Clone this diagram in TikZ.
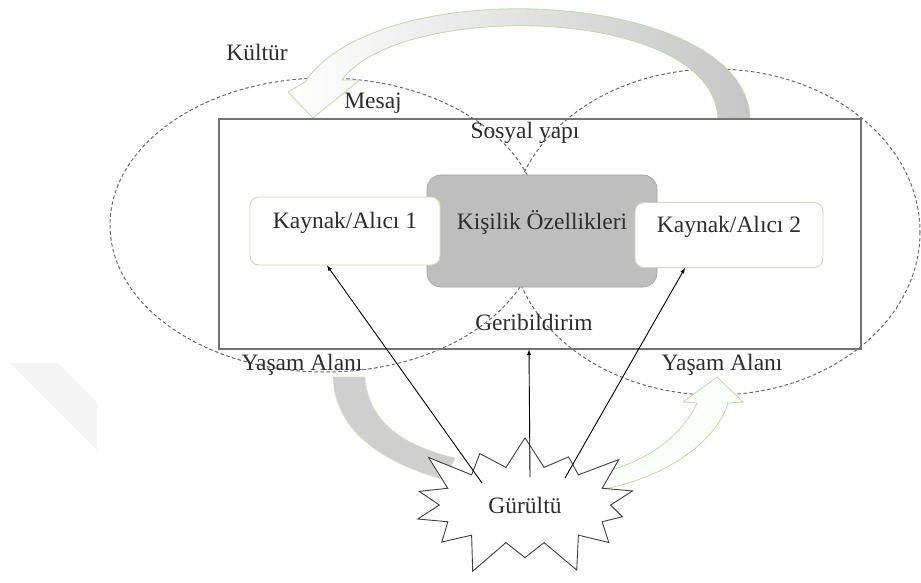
\documentclass[tikz,border=0pt]{standalone}
\usepackage{fontspec}
\setmainfont{Liberation Serif}
\usepackage{tikz}
\usetikzlibrary{calc}
\usetikzlibrary{arrows}
\usetikzlibrary{shapes.symbols}
\definecolor{yazi}{RGB}{45,45,45}
\definecolor{cerceverengi}{RGB}{115,115,115}
\definecolor{kesikli}{RGB}{105,105,105}
\definecolor{yesil}{RGB}{196,214,170}
\definecolor{kutucizgi}{RGB}{206,216,192}
\definecolor{kisilik}{RGB}{190,190,190}
\tikzstyle{every node}=[font=\fontsize{23.5}{25}\selectfont, text=yazi]
\tikzstyle{kutu}=[draw=kutucizgi, fill=white, line width=.9pt, rounded corners=9pt, text depth=22pt]
\tikzstyle{cizgili}=[draw=kesikli, line width=1pt, dash pattern=on 3.5pt off 2.5pt]

\begin{document}
\begin{tikzpicture}[>=latex, x=1pt, y=-1pt]
\useasboundingbox (0,0) rectangle (921,582);
% filigran
\fill[gray!9] (10,363) -- (58,363) -- (97,402) -- (97,450) -- cycle;

% yasam alanlari
\draw[cizgili] (325,225) ellipse [x radius=215, y radius=147];
\draw[cizgili] (715,232) ellipse [x radius=205, y radius=163];

% kultur okunun govdesi ve ucu
\draw[yesil, line width=.8pt, left color=white, right color=gray!45]
  (750,118) .. controls (745,-10) and (380,-30) .. (305,82) -- (288,92)
  -- (313,118) -- (360,80) -- (342,80)
  .. controls (400,0) and (712,5) .. (718,118) -- cycle;

% alt oklar
\draw[yesil!70, line width=.6pt, fill=gray!38]
  (333,377) .. controls (335,430) and (380,462) .. (445,480) -- (455,458)
  .. controls (400,445) and (368,420) .. (365,377) -- cycle;
\draw[yesil, line width=.8pt, fill=green!2]
  (595,474) .. controls (640,465) and (680,440) .. (697,403) -- (683,402)
  -- (717,377) -- (743,402) -- (728,403)
  .. controls (715,445) and (660,480) .. (598,490) -- cycle;

% sosyal yapi cercevesi
\node[draw=cerceverengi, line width=1.5pt, minimum width=642pt, minimum height=230pt, anchor=north west] (cerceve) at (218,118) {};

\node[fill=kisilik, draw=kisilik!85!black, line width=.6pt, rounded corners=14pt, minimum width=230pt, minimum height=112pt, text depth=22pt] (kisilik) at (542,231) {Kişilik Özellikleri};
\node[kutu, minimum width=190pt, minimum height=68pt] (kaynak1) at (345,231) {Kaynak/Alıcı 1};
\node[kutu, minimum width=188pt, minimum height=65pt] (kaynak2) at (729,235) {Kaynak/Alıcı 2};

\node[starburst, draw=black!75, fill=white, line width=.9pt, starburst points=14, starburst point height=40pt, inner xsep=24pt, inner ysep=19pt] (gurultu) at (525,505) {Gürültü};
\coordinate (orta) at ($(gurultu)+(4,0)$);

\draw[->, line width=.9pt] ($(gurultu)+(-43,-22)$) -- ($(kaynak1.south)+(-18,0)$);
\draw[->, line width=.9pt] ($(gurultu)+(5,-28)$) -- (orta |- cerceve.south);
\draw[->, line width=.9pt] ($(gurultu)+(40,-27)$) -- ($(kaynak2.south)+(-44,0)$);

% etiketler
\node (kultur) at (257,52) {Kültür};
\node (mesaj) at (373,103) {Mesaj};
\node (sosyal) at (525,133) {Sosyal yapı};
\node (geri) at (534,322) {Geribildirim};
\node (yasam1) at (302,365) {Yaşam Alanı};
\node (yasam2) at (722,365) {Yaşam Alanı};
\end{tikzpicture}
\end{document}
